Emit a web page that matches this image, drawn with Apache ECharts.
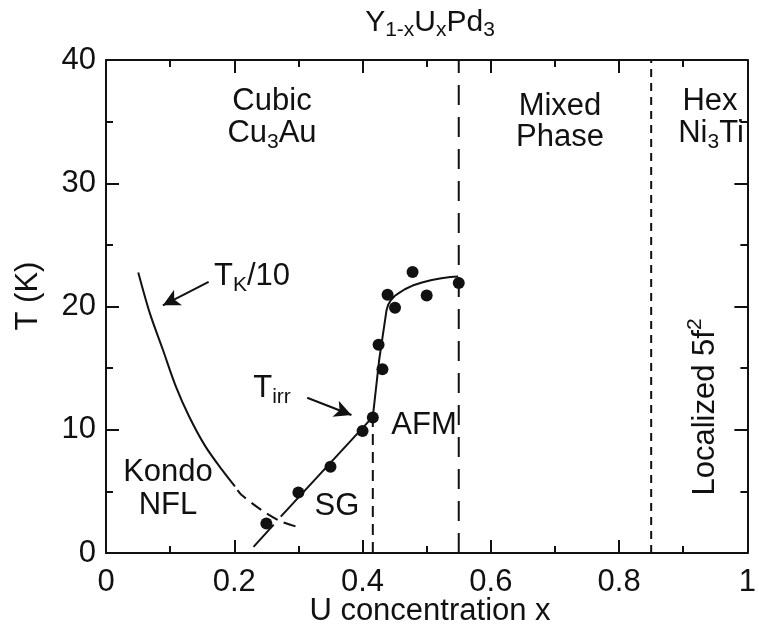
<!DOCTYPE html>
<html><head><meta charset="utf-8">
<script src="https://cdn.jsdelivr.net/npm/echarts@6/dist/echarts.min.js"></script>
<style>html,body{margin:0;padding:0;background:#fff}#c{width:759px;height:639px}</style>
</head><body><div id="c"></div>
<script>
// measured points Tirr / TN
const ptX = [0.25, 0.30, 0.35, 0.40, 0.416, 0.425, 0.431, 0.439, 0.4506, 0.478, 0.50, 0.55];
const ptT = [2.4, 4.9, 7.0, 9.9, 11.0, 16.9, 14.9, 20.95, 19.9, 22.8, 20.9, 21.9];
// guide line through points (lower segment, then upper segment after small break)
const fitLoX = [0.23, 0.2615];
const fitLoT = [0.5, 2.3];
const fitX = [0.2725, 0.416, 0.426, 0.4337, 0.4374, 0.440, 0.444, 0.450, 0.457, 0.466, 0.478, 0.4926, 0.508, 0.523, 0.537, 0.549];
const fitT = [2.95, 11.05, 15.7, 18.4, 19.7, 20.15, 20.5, 20.85, 21.1, 21.4, 21.7, 21.95, 22.15, 22.3, 22.4, 22.43];
// TK/10 curve (solid part, dashed extrapolation)
const tkX = [0.0503, 0.0683, 0.0887, 0.109, 0.1296, 0.155, 0.1807, 0.201];
const tkT = [22.76, 19.46, 16.49, 13.5, 11.08, 8.65, 6.76, 5.4];
const tkDX = [0.205, 0.211, 0.242, 0.2727, 0.301];
const tkDT = [5.1, 4.73, 3.5, 2.56, 2.08];
// phase boundaries
const bAfmX = [0.416, 0.416]; const bAfmT = [0, 11];
const bMixX = [0.55, 0.55]; const bMixT = [0, 40];
const bHexX = [0.85, 0.85]; const bHexT = [0, 40];
// arrows [from, to]
const arrowTK = [[0.160, 22.0], [0.0887, 20.1]];
const arrowTirr = [[0.3137, 12.6], [0.3827, 11.2]];
// axes
const xTicks = [0, 0.2, 0.4, 0.6, 0.8, 1];
const yTicks = [0, 10, 20, 30, 40];

const zip = (a, b) => a.map((v, i) => [v, b[i]]);
const FONT = 'Liberation Sans';
const black = '#111';

const axisCommon = {
  axisLine: {show: true, onZero: false, lineStyle: {color: black, width: 2}},
  axisTick: {show: true, inside: true, length: 13, lineStyle: {color: black, width: 2}},
  minorTick: {show: true, splitNumber: 2, length: 7, lineStyle: {color: black, width: 2}},
  splitLine: {show: false},
  minorSplitLine: {show: false}
};

const chart = echarts.init(document.getElementById('c'), null, {renderer: 'canvas'});

const lineS = (data, dash, extra) => Object.assign({
  type: 'line', data: data, showSymbol: false, symbol: 'none', silent: true,
  lineStyle: {color: black, width: 2, type: dash || 'solid'}, animation: false
}, extra || {});

const rich = {
  n: {fontFamily: FONT, fontSize: 31, color: black, lineHeight: 40, verticalAlign: 'middle'},
  s: {fontFamily: FONT, fontSize: 21, color: black, lineHeight: 21, verticalAlign: 'bottom'},
  u: {fontFamily: FONT, fontSize: 21, color: black, lineHeight: 21, verticalAlign: 'top'},
  tn: {fontFamily: FONT, fontSize: 30, color: black, lineHeight: 36, verticalAlign: 'middle'},
  ts: {fontFamily: FONT, fontSize: 21, color: black, lineHeight: 21, verticalAlign: 'bottom'}
};
const txt = (x, y, text, rot) => ({
  type: 'text', x: x, y: y, rotation: rot || 0, silent: true,
  style: {text: text, rich: rich, align: 'center', verticalAlign: 'middle',
          font: '31px "' + FONT + '"', fill: black}
});

const option = {
  backgroundColor: '#fff',
  animation: false,
  grid: {left: 106, right: 2, top: 60, bottom: 86, containLabel: false},
  xAxis: [
    Object.assign({type: 'value', min: 0, max: 1, interval: 0.2, position: 'bottom',
      axisLabel: {show: true, margin: 14, color: black, fontFamily: FONT, fontSize: 31,
        formatter: v => { const t = xTicks.find(k => Math.abs(k - v) < 1e-9); return t === undefined ? '' : String(t); }}
    }, axisCommon),
    Object.assign({type: 'value', min: 0, max: 1, interval: 0.2, position: 'top', axisLabel: {show: false}}, axisCommon)
  ],
  yAxis: [
    Object.assign({type: 'value', min: 0, max: 40, interval: 10, position: 'left',
      axisLabel: {show: true, margin: 10, color: black, fontFamily: FONT, fontSize: 31,
        formatter: v => { const t = yTicks.find(k => Math.abs(k - v) < 1e-9); return t === undefined ? '' : String(t); }}
    }, axisCommon),
    Object.assign({type: 'value', min: 0, max: 40, interval: 10, position: 'right', axisLabel: {show: false}}, axisCommon)
  ],
  series: [
    lineS(zip(tkX, tkT), 'solid', {smooth: 0.3}),
    lineS(zip(tkDX, tkDT), [12, 7], {smooth: 0.3}),
    lineS(zip(fitLoX, fitLoT)),
    lineS(zip(fitX, fitT)),
    lineS(zip(bAfmX, bAfmT), [11, 7]),
    lineS(zip(bMixX, bMixT), [20, 12]),
    lineS(zip(bHexX, bHexT), [8, 6]),
    {type: 'scatter', data: zip(ptX, ptT), symbol: 'circle', symbolSize: 12, silent: true,
      itemStyle: {color: black, opacity: 1}, z: 5},
    lineS([], 'solid', {
      markLine: {silent: true, symbol: ['none', 'arrow'], symbolSize: [13, 17],
        label: {show: false}, lineStyle: {color: black, width: 2, type: 'solid'},
        animation: false,
        data: [
          [{coord: arrowTK[0]}, {coord: arrowTK[1]}],
          [{coord: arrowTirr[0]}, {coord: arrowTirr[1]}]
        ]}
    })
  ],
  graphic: [
    txt(430, 23, '{tn|Y}{ts|1-x}{tn|U}{ts|x}{tn|Pd}{ts|3}'),
    txt(272, 101, '{n|Cubic}'),
    txt(272, 133, '{n|Cu}{s|3}{n|Au}'),
    txt(560, 106, '{n|Mixed}'),
    txt(560, 137, '{n|Phase}'),
    txt(710, 101, '{n|Hex}'),
    txt(711, 133, '{n|Ni}{s|3}{n|Ti}'),
    txt(252, 276, '{n|T}{s|K}{n|/10}'),
    txt(272, 388, '{n|T}{s|irr}'),
    txt(424, 425, '{n|AFM}'),
    txt(168, 472, '{n|Kondo}'),
    txt(168, 505, '{n|NFL}'),
    txt(337, 506, '{n|SG}'),
    txt(705, 407, '{n|Localized 5f}{u|2}', Math.PI / 2),
    txt(28, 296, '{n|T (K)}', Math.PI / 2),
    txt(430, 611, '{n|U concentration x}')
  ]
};
chart.setOption(option);
</script>
</body></html>
